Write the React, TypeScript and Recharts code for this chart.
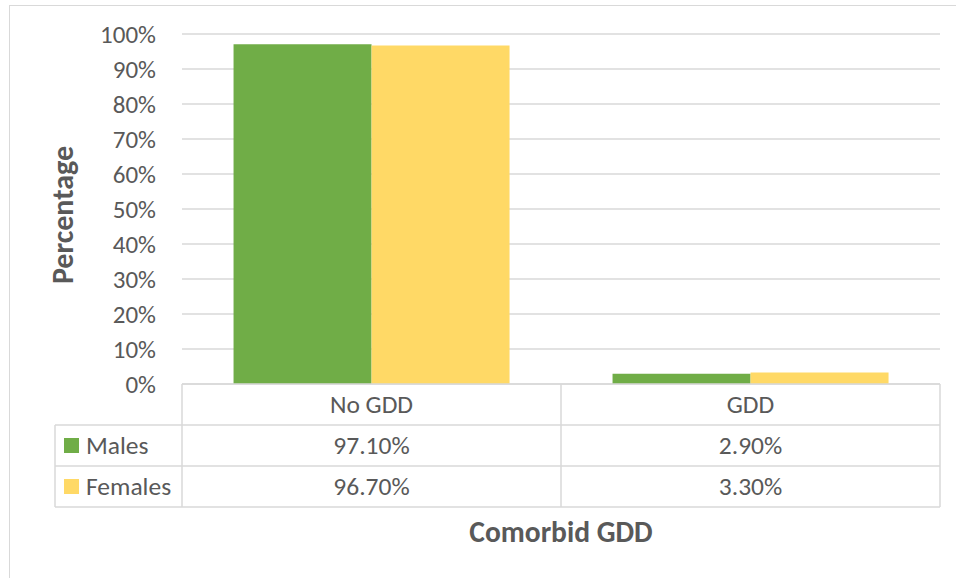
import React from 'react';
import { BarChart, Bar, XAxis, YAxis, CartesianGrid } from 'recharts';

const categories = ['No GDD', 'GDD'];
const males = [97.1, 2.9];
const females = [96.7, 3.3];
const yTicks = [0, 10, 20, 30, 40, 50, 60, 70, 80, 90, 100];

const series = [
  { key: 'males', name: 'Males', values: males, color: '#70AD47' },
  { key: 'females', name: 'Females', values: females, color: '#FFD966' },
];

const data = categories.map((c, i) => ({ name: c, males: males[i], females: females[i] }));

const W = 956;
const H = 578;
const MARGIN = { top: 34, right: 16, bottom: 0, left: 0 };
const Y_AXIS_W = 182;
const X_AXIS_H = 194;
const ROW_H = 41;
const LEGEND_W = 127;
const TEXT = '#595959';
const LINE = '#D9D9D9';
const FONT = 'Carlito, Lato, sans-serif';

const colW = (W - MARGIN.left - MARGIN.right - Y_AXIS_W) / categories.length;
const fmt = (v: number) => `${v.toFixed(2)}%`;

// each x tick draws one column of the data table under the bars
function TableTick(props: any) {
  const { x, y, payload } = props;
  const i = payload.index;
  const left = x - colW / 2;
  const right = x + colW / 2;
  const bottom = y + ROW_H * (series.length + 1);
  const ln = { stroke: LINE, strokeWidth: 1.5 };
  return (
    <g fontFamily={FONT} fontSize={25.5} fill={TEXT}>
      <line x1={left} y1={y} x2={left} y2={bottom} {...ln} />
      {i === categories.length - 1 && <line x1={right} y1={y} x2={right} y2={bottom} {...ln} />}
      {series.map((s, r) => (
        <line key={s.key} x1={left} x2={right} y1={y + ROW_H * (r + 1)} y2={y + ROW_H * (r + 1)} {...ln} />
      ))}
      <line x1={left} x2={right} y1={bottom} y2={bottom} {...ln} />
      <text x={x} y={y + ROW_H / 2} textAnchor="middle" dominantBaseline="central">
        {categories[i]}
      </text>
      {series.map((s, r) => (
        <text key={s.key} x={x} y={y + ROW_H * (r + 1.5)} textAnchor="middle" dominantBaseline="central">
          {fmt(s.values[i])}
        </text>
      ))}
      {i === 0 && (
        <g>
          <line x1={left - LEGEND_W} x2={left - LEGEND_W} y1={y + ROW_H} y2={bottom} {...ln} />
          {series.map((s, r) => (
            <g key={s.key}>
              <line x1={left - LEGEND_W} x2={left} y1={y + ROW_H * (r + 1)} y2={y + ROW_H * (r + 1)} {...ln} />
              <rect x={left - LEGEND_W + 9} y={y + ROW_H * (r + 1.5) - 7.5} width={15} height={15} fill={s.color} />
              <text x={left - LEGEND_W + 31} y={y + ROW_H * (r + 1.5)} dominantBaseline="central">
                {s.name}
              </text>
            </g>
          ))}
          <line x1={left - LEGEND_W} x2={left} y1={bottom} y2={bottom} {...ln} />
        </g>
      )}
    </g>
  );
}

export default function App() {
  return (
    <div style={{ position: 'absolute', left: 0, top: 0, width: W, height: H, overflow: 'hidden', background: '#fff' }}>
      <div
        style={{
          position: 'absolute',
          left: 9,
          top: 5,
          width: W + 40,
          height: H + 40,
          borderTop: `1.5px solid ${LINE}`,
          borderLeft: `1.5px solid ${LINE}`,
        }}
      />
      <div style={{ position: 'absolute', left: 0, top: 0 }}>
        <BarChart width={W} height={H} data={data} margin={MARGIN} barCategoryGap="13.6%" barGap={0}>
          <CartesianGrid vertical={false} stroke={LINE} strokeWidth={1.5} />
          <XAxis
            dataKey="name"
            height={X_AXIS_H}
            axisLine={{ stroke: LINE, strokeWidth: 1.5 }}
            tickLine={false}
            tickSize={0}
            tickMargin={0}
            interval={0}
            tick={<TableTick />}
            label={{
              content: ({ viewBox }: any) => (
                <text
                  x={viewBox.x + viewBox.width / 2}
                  y={viewBox.y + 148}
                  textAnchor="middle"
                  dominantBaseline="central"
                  fontFamily={FONT}
                  fontSize={29.5}
                  fontWeight="bold"
                  fill={TEXT}
                >
                  Comorbid GDD
                </text>
              ),
            }}
          />
          <YAxis
            width={Y_AXIS_W}
            domain={[0, 100]}
            ticks={yTicks}
            tickFormatter={(v) => `${v}%`}
            axisLine={false}
            tickLine={false}
            tickSize={0}
            tickMargin={26}
            tick={{ fontFamily: FONT, fontSize: 25, fill: TEXT }}
            label={{
              content: ({ viewBox }: any) => {
                const cx = viewBox.x + 62;
                const cy = viewBox.y + viewBox.height / 2 + 6;
                return (
                  <text
                    x={cx}
                    y={cy}
                    transform={`rotate(-90 ${cx} ${cy})`}
                    textAnchor="middle"
                    dominantBaseline="central"
                    fontFamily={FONT}
                    fontSize={30}
                    fontWeight="bold"
                    fill={TEXT}
                  >
                    Percentage
                  </text>
                );
              },
            }}
          />
          {series.map((s) => (
            <Bar key={s.key} dataKey={s.key} name={s.name} fill={s.color} isAnimationActive={false} />
          ))}
        </BarChart>
      </div>
    </div>
  );
}
